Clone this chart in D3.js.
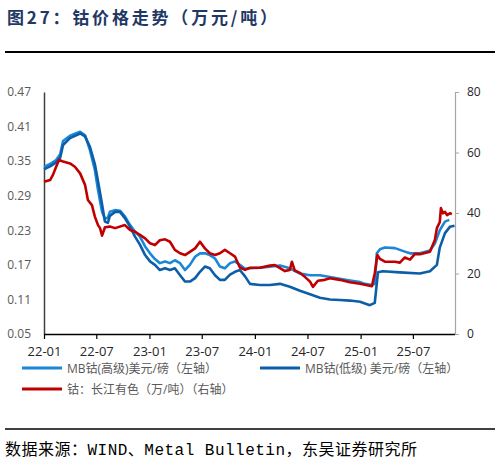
<!DOCTYPE html>
<html lang="zh">
<head>
<meta charset="UTF-8">
<title>钴价格走势</title>
<style>
  body { margin: 0; background: #fff; }
  svg { display: block; }
  .tick text { font-family: "Open Sans", "Noto Sans CJK SC", sans-serif; }
  .legend text { font-family: "Open Sans", "Noto Sans CJK SC", sans-serif; font-size: 12px; fill: #595959; }
</style>
<script src="https://d3js.org/d3.v7.min.js"></script>
</head>
<body>
<script>
// MB钴(高级) 美元/磅
const highDates = ["2022-01-01","2022-01-22","2022-02-12","2022-02-26","2022-03-08","2022-04-01","2022-05-06","2022-05-23","2022-06-09","2022-06-26","2022-07-07","2022-07-21","2022-07-31","2022-08-10","2022-08-17","2022-09-04","2022-09-21","2022-10-08","2022-10-26","2022-11-12","2022-11-29","2022-12-17","2023-01-03","2023-01-20","2023-02-06","2023-02-24","2023-03-13","2023-03-30","2023-04-17","2023-05-04","2023-05-21","2023-06-08","2023-06-25","2023-07-12","2023-07-29","2023-08-16","2023-09-02","2023-09-19","2023-10-07","2023-10-24","2023-11-10","2023-11-28","2023-12-15","2024-01-18","2024-02-22","2024-03-28","2024-05-01","2024-06-05","2024-07-10","2024-08-13","2024-09-17","2024-10-21","2024-11-25","2024-12-30","2025-01-16","2025-02-09","2025-02-19","2025-02-26","2025-03-09","2025-03-26","2025-04-30","2025-05-17","2025-06-03","2025-06-21","2025-07-25","2025-08-29","2025-09-15","2025-10-02","2025-10-20","2025-11-04"];
const highValues = [0.340,0.345,0.352,0.362,0.385,0.394,0.401,0.395,0.369,0.335,0.300,0.262,0.250,0.252,0.262,0.265,0.264,0.254,0.239,0.228,0.219,0.202,0.190,0.180,0.173,0.176,0.173,0.178,0.173,0.161,0.170,0.184,0.190,0.190,0.187,0.181,0.167,0.164,0.173,0.176,0.170,0.163,0.164,0.165,0.167,0.169,0.164,0.155,0.152,0.152,0.149,0.146,0.143,0.140,0.137,0.135,0.137,0.190,0.197,0.200,0.199,0.196,0.193,0.190,0.190,0.195,0.207,0.230,0.245,0.248];

// MB钴(低级) 美元/磅
const lowDates = ["2022-01-01","2022-01-22","2022-02-12","2022-02-26","2022-03-08","2022-04-01","2022-05-06","2022-05-23","2022-06-09","2022-06-26","2022-07-07","2022-07-21","2022-07-31","2022-08-10","2022-08-17","2022-09-04","2022-09-21","2022-10-08","2022-10-26","2022-11-12","2022-11-29","2022-12-17","2023-01-03","2023-01-20","2023-02-06","2023-02-24","2023-03-13","2023-03-30","2023-04-17","2023-05-04","2023-05-21","2023-06-08","2023-06-25","2023-07-12","2023-07-29","2023-08-16","2023-09-02","2023-09-19","2023-10-07","2023-10-24","2023-11-10","2023-11-28","2023-12-15","2024-01-18","2024-02-22","2024-03-28","2024-05-01","2024-06-05","2024-07-10","2024-08-13","2024-09-17","2024-10-21","2024-11-25","2024-12-30","2025-02-02","2025-02-19","2025-03-02","2025-03-19","2025-05-17","2025-07-25","2025-08-29","2025-09-22","2025-10-02","2025-10-20","2025-11-06","2025-11-22"];
const lowValues = [0.336,0.341,0.348,0.356,0.378,0.390,0.398,0.393,0.375,0.345,0.315,0.275,0.245,0.243,0.255,0.262,0.262,0.251,0.236,0.219,0.205,0.187,0.176,0.170,0.161,0.164,0.161,0.164,0.152,0.141,0.141,0.147,0.158,0.167,0.164,0.152,0.144,0.144,0.153,0.158,0.161,0.150,0.137,0.135,0.135,0.137,0.132,0.125,0.119,0.113,0.110,0.109,0.108,0.106,0.100,0.104,0.157,0.159,0.157,0.155,0.159,0.170,0.200,0.225,0.236,0.238];

// 钴：长江有色 万元/吨
const cjDates = ["2022-01-01","2022-01-22","2022-02-01","2022-02-12","2022-02-22","2022-03-08","2022-04-01","2022-04-18","2022-05-06","2022-05-23","2022-06-02","2022-06-16","2022-06-26","2022-07-07","2022-07-14","2022-07-21","2022-07-31","2022-08-17","2022-09-04","2022-10-08","2022-10-26","2022-11-12","2022-11-29","2022-12-17","2023-01-03","2023-01-20","2023-02-06","2023-02-24","2023-03-13","2023-03-30","2023-04-17","2023-05-04","2023-06-08","2023-06-25","2023-07-12","2023-07-29","2023-08-16","2023-09-02","2023-09-19","2023-10-07","2023-10-24","2023-11-10","2023-11-28","2023-12-15","2024-01-18","2024-02-22","2024-03-10","2024-03-28","2024-04-14","2024-05-01","2024-05-08","2024-05-18","2024-06-05","2024-06-22","2024-07-10","2024-07-20","2024-08-06","2024-08-30","2024-09-17","2024-10-21","2024-11-25","2024-12-30","2025-02-09","2025-02-19","2025-02-28","2025-03-09","2025-03-26","2025-04-30","2025-05-17","2025-06-03","2025-06-21","2025-07-08","2025-07-25","2025-08-29","2025-09-15","2025-09-22","2025-10-02","2025-10-06","2025-10-13","2025-10-20","2025-10-27","2025-11-06","2025-11-13"];
const cjValues = [50.3,50.9,52.6,55.3,57.5,57.0,56.4,55.3,53.1,49.3,44.3,42.6,38.8,36.0,35.0,32.5,35.3,35.5,35.0,36.0,34.4,33.8,32.8,31.6,30.0,29.4,31.0,31.3,30.5,27.8,26.7,26.1,28.3,30.5,28.3,26.7,26.1,26.7,27.8,26.7,25.6,22.0,21.2,21.9,21.9,22.6,22.8,21.8,20.8,21.2,23.9,21.0,20.2,18.9,17.3,15.6,17.6,17.9,18.4,17.9,17.1,16.6,15.8,20.1,26.1,24.8,23.9,23.9,23.6,25.3,24.6,26.5,26.4,27.2,31.1,35.0,37.0,41.6,39.9,40.4,39.3,39.9,39.7];

const leftTicks = [0.05, 0.11, 0.17, 0.23, 0.29, 0.35, 0.41, 0.47];
const rightTicks = [0, 20, 40, 60, 80];
const xTicks = ["2022-01-01","2022-07-01","2023-01-01","2023-07-01","2024-01-01","2024-07-01","2025-01-01","2025-07-01"];
const xDomain = ["2022-01-01", "2025-11-22"];

const legendItems = [
  { label: "MB钴(高级)美元/磅（左轴）", color: "#1b87d6" },
  { label: "MB钴(低级) 美元/磅（左轴）", color: "#0d5ea8" },
  { label: "钴：长江有色（万/吨）（右轴）", color: "#c00000" }
];

const parse = d3.timeParse("%Y-%m-%d");
const W = 500, H = 469;
const svg = d3.select("body").append("svg").attr("width", W).attr("height", H);

// header
svg.append("text")
  .attr("x", 7).attr("y", 24)
  .attr("textLength", 270).attr("lengthAdjust", "spacing")
  .style("font-family", "\"Noto Sans CJK SC\", sans-serif")
  .style("font-weight", "bold").style("font-size", "17px")
  .style("fill", "#1f3864")
  .text("图27：钴价格走势（万元/吨）");
svg.append("line").attr("x1", 5).attr("x2", 495).attr("y1", 52).attr("y2", 52)
  .attr("stroke", "#000").attr("stroke-width", 2.2);

const x = d3.scaleTime().domain(xDomain.map(parse)).range([44, 454.5]);
const yL = d3.scaleLinear().domain([0.05, 0.47]).range([334, 92]);
const yR = d3.scaleLinear().domain([0, 80]).range([334, 92]);

// axes
const gL = svg.append("g").attr("transform", "translate(44,0)")
  .call(d3.axisLeft(yL).tickValues(leftTicks).tickFormat(d3.format(".2f")).tickSize(0).tickPadding(13));
gL.select(".domain").attr("stroke", "#404040").attr("stroke-width", 1.5);
gL.selectAll("text").style("font-size", "12px").style("fill", "#595959");

const gR = svg.append("g").attr("transform", "translate(455,0)")
  .call(d3.axisRight(yR).tickValues(rightTicks).tickSize(4).tickSizeOuter(0).tickPadding(8));
gR.select(".domain").attr("stroke", "#a6a6a6").attr("stroke-width", 1.2);
gR.selectAll(".tick line").attr("stroke", "#a6a6a6");
gR.selectAll("text").style("font-size", "12px").style("fill", "#262626");

const gB = svg.append("g").attr("transform", "translate(0,334)")
  .call(d3.axisBottom(x).tickValues(xTicks.map(parse)).tickFormat(d3.timeFormat("%y-%m")).tickSize(5).tickSizeOuter(0).tickPadding(8));
gB.select(".domain").attr("stroke", "#000").attr("stroke-width", 1.4);
gB.selectAll(".tick line").attr("stroke", "#000").attr("stroke-width", 1.2);
gB.selectAll("text").style("font-size", "13px").style("fill", "#262626");

// series
function series(dates, values, yScale, color) {
  const pts = dates.map((d, i) => [parse(d), values[i]]);
  svg.append("path")
    .datum(pts)
    .attr("fill", "none")
    .attr("stroke", color)
    .attr("stroke-width", 2.6)
    .attr("stroke-linejoin", "round")
    .attr("d", d3.line().x(d => x(d[0])).y(d => yScale(d[1])));
}
series(highDates, highValues, yL, legendItems[0].color);
series(lowDates, lowValues, yL, legendItems[1].color);
series(cjDates, cjValues, yR, legendItems[2].color);

// legend
const legendPos = [[22, 368], [260, 368], [22, 389]];
const lg = svg.append("g").attr("class", "legend");
legendItems.forEach((it, i) => {
  const [lx, ly] = legendPos[i];
  lg.append("line").attr("x1", lx).attr("x2", lx + 40).attr("y1", ly).attr("y2", ly)
    .attr("stroke", it.color).attr("stroke-width", 3);
  lg.append("text").attr("x", lx + 45).attr("y", ly + 4.5).text(it.label);
});

// footer
svg.append("line").attr("x1", 5).attr("x2", 495).attr("y1", 429).attr("y2", 429)
  .attr("stroke", "#000").attr("stroke-width", 1.6);
svg.append("text")
  .attr("x", 5).attr("y", 455)
  .attr("textLength", 412).attr("lengthAdjust", "spacing")
  .style("font-family", "\"Liberation Mono\", \"Noto Sans CJK SC\", monospace")
  .style("font-size", "16px").style("fill", "#000")
  .text("数据来源：WIND、Metal Bulletin，东吴证券研究所");
</script>
</body>
</html>
